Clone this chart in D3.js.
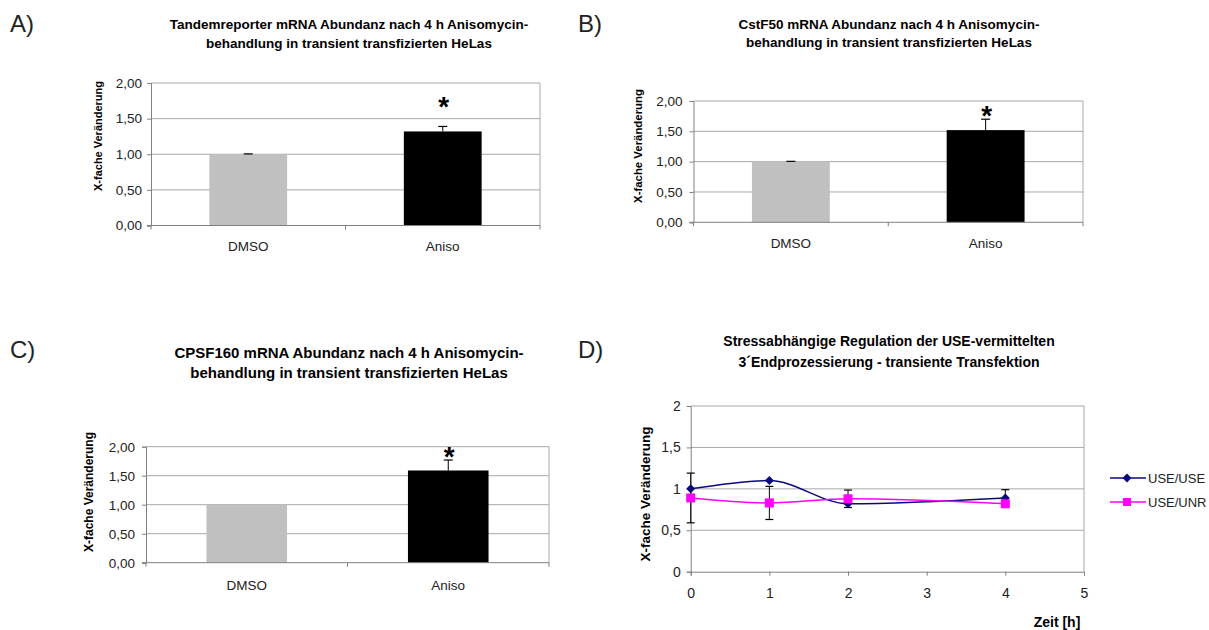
<!DOCTYPE html>
<html>
<head>
<meta charset="utf-8">
<script src="https://cdn.jsdelivr.net/npm/d3@7"></script>
<style>
  body { margin: 0; background: #fff; }
  svg { display: block; font-family: "Liberation Sans", Arial, sans-serif; }
</style>
</head>
<body>
<svg id="chart" width="1209" height="630"></svg>
<script>
// ---- data ----
const categories = ["DMSO", "Aniso"];
const barTicks = [0, 0.5, 1, 1.5, 2];

const tandemValues = [1.00, 1.32];
const tandemErrors = [0.005, 0.07];
const cstfValues = [1.00, 1.52];
const cstfErrors = [0.005, 0.18];
const cpsfValues = [1.00, 1.59];
const cpsfErrors = [0.0, 0.18];
const starLevels = [1.75, 1.85, 1.92]; // where the "*" sits, panels A, B, C

const hours = [0, 1, 2, 4];
const useUse = [1.00, 1.10, 0.82, 0.89];
const useUseErr = [0, 0, 0, 0.10];
const useUnr = [0.89, 0.83, 0.88, 0.82];
const useUnrErr = [0.30, 0.20, 0.105, 0];
const lineXTicks = [0, 1, 2, 3, 4, 5];
const lineYTicks = [0, 0.5, 1, 1.5, 2];

const gridColor = "#a8a8a8";
const axisColor = "#808080";
const navy = "#0a0a7a";
const magenta = "#ff00ff";

const svg = d3.select("#chart");

const comma = f => v => f(v).replace(".", ",");

const panelLetter = (x, y, txt) => {
  svg.append("text")
    .attr("x", x).attr("y", y)
    .attr("font-size", 24)
    .attr("fill", "#222")
    .text(txt);
};

const title = (cx, ys, lines, fs) => {
  lines.forEach((l, i) => {
    svg.append("text")
      .attr("x", cx).attr("y", ys[i] + fs * 0.35)
      .attr("text-anchor", "middle")
      .attr("font-weight", "bold")
      .attr("font-size", fs)
      .text(l);
  });
};

const yLabel = (x, cy, fs) => {
  svg.append("text")
    .attr("transform", `translate(${x},${cy}) rotate(-90)`)
    .attr("text-anchor", "middle")
    .attr("dy", "0.35em")
    .attr("font-weight", "bold")
    .attr("font-size", fs)
    .text("X-fache Veränderung");
};

const drawBars = (p, values, errors, star) => {
  const g = svg.append("g");

  const x = d3.scaleBand()
    .domain(categories)
    .range([p.left, p.right])
    .paddingInner(0.6)
    .paddingOuter(0.3);

  const y = d3.scaleLinear().domain([0, 2]).range([p.bottom, p.top]);

  // grid
  g.selectAll(".grid")
    .data(barTicks.filter(d => d > 0))
    .join("line")
    .attr("x1", p.left).attr("x2", p.right)
    .attr("y1", d => y(d)).attr("y2", d => y(d))
    .attr("stroke", gridColor);

  g.append("line")
    .attr("x1", p.right).attr("x2", p.right)
    .attr("y1", p.top).attr("y2", p.bottom)
    .attr("stroke", gridColor);

  // bars
  g.selectAll(".bar")
    .data(values)
    .join("rect")
    .attr("x", (d, i) => x(categories[i]))
    .attr("y", d => y(d))
    .attr("width", x.bandwidth())
    .attr("height", d => p.bottom - y(d))
    .attr("fill", (d, i) => i === 0 ? "#c0c0c0" : "#000");

  // error bars (plus only)
  values.forEach((v, i) => {
    if (!errors[i]) return;
    const cx = x(categories[i]) + x.bandwidth() / 2;
    g.append("line")
      .attr("x1", cx).attr("x2", cx)
      .attr("y1", y(v)).attr("y2", y(v + errors[i]))
      .attr("stroke", "#000");
    g.append("line")
      .attr("x1", cx - 4.5).attr("x2", cx + 4.5)
      .attr("y1", y(v + errors[i])).attr("y2", y(v + errors[i]))
      .attr("stroke", "#000").attr("stroke-width", 1.2);
  });

  // star over Aniso
  const sx = x("Aniso") + x.bandwidth() / 2;
  g.append("text")
    .attr("x", sx + 1).attr("y", y(star) + 15)
    .attr("text-anchor", "middle")
    .attr("font-size", 28)
    .attr("font-weight", "bold")
    .text("*");

  // y axis
  const ya = g.append("g")
    .attr("transform", `translate(${p.left},0)`)
    .call(d3.axisLeft(y).tickValues(barTicks).tickSize(4).tickPadding(p.pad)
      .tickFormat(comma(d3.format(".2f"))));
  ya.select(".domain").attr("stroke", axisColor);
  ya.selectAll(".tick line").attr("stroke", axisColor);
  ya.selectAll("text").attr("font-size", 13.5).attr("fill", "#222")
    .attr("font-family", "Liberation Sans, Arial, sans-serif");

  // x axis: baseline with ticks at band edges
  g.append("line")
    .attr("x1", p.left - 4).attr("x2", p.right)
    .attr("y1", p.bottom).attr("y2", p.bottom)
    .attr("stroke", axisColor);
  const edges = [p.left, (p.left + p.right) / 2, p.right];
  g.selectAll(".xt")
    .data(edges)
    .join("line")
    .attr("x1", d => d).attr("x2", d => d)
    .attr("y1", p.bottom).attr("y2", p.bottom + 4)
    .attr("stroke", axisColor);

  g.selectAll(".cat")
    .data(categories)
    .join("text")
    .attr("x", d => x(d) + x.bandwidth() / 2)
    .attr("y", p.catY + 4.7)
    .attr("text-anchor", "middle")
    .attr("font-size", 13.5)
    .attr("fill", "#222")
    .text(d => d);
};

// ---- panel A ----
panelLetter(10, 32, "A)");
title(349, [24, 43],
  ["Tandemreporter mRNA Abundanz nach 4 h Anisomycin-",
   "behandlung in transient transfizierten HeLas"], 13.5);
yLabel(98, 136, 11);
drawBars({ left: 151, right: 540, top: 83, bottom: 225.5, catY: 246, pad: 5 },
  tandemValues, tandemErrors, starLevels[0]);

// ---- panel B ----
panelLetter(578, 32, "B)");
title(889, [24, 42],
  ["CstF50 mRNA Abundanz nach 4 h Anisomycin-",
   "behandlung in transient transfizierten HeLas"], 13.5);
yLabel(638, 146, 11.4);
drawBars({ left: 693.5, right: 1083, top: 101, bottom: 222.3, catY: 243, pad: 7 },
  cstfValues, cstfErrors, starLevels[1]);

// ---- panel C ----
panelLetter(10, 358, "C)");
title(349, [353, 373],
  ["CPSF160 mRNA Abundanz nach 4 h Anisomycin-",
   "behandlung in transient transfizierten HeLas"], 15);
yLabel(89, 492, 12);
drawBars({ left: 146, right: 549, top: 446.7, bottom: 562.7, catY: 585, pad: 7 },
  cpsfValues, cpsfErrors, starLevels[2]);

// ---- panel D ----
panelLetter(578, 358, "D)");
title(889, [341, 362],
  ["Stressabhängige Regulation der USE-vermittelten",
   "3´Endprozessierung - transiente Transfektion"], 14);
yLabel(645, 494, 13.5);

const pd = { left: 690.7, right: 1084, top: 406, bottom: 571.7 };
const xD = d3.scaleLinear().domain([0, 5]).range([pd.left, pd.right]);
const yD = d3.scaleLinear().domain([0, 2]).range([pd.bottom, pd.top]);
const gD = svg.append("g");

gD.selectAll(".grid")
  .data(lineYTicks.filter(d => d > 0))
  .join("line")
  .attr("x1", pd.left).attr("x2", pd.right)
  .attr("y1", d => yD(d)).attr("y2", d => yD(d))
  .attr("stroke", gridColor);
gD.append("line")
  .attr("x1", pd.right).attr("x2", pd.right)
  .attr("y1", pd.top).attr("y2", pd.bottom)
  .attr("stroke", gridColor);

const yaD = gD.append("g")
  .attr("transform", `translate(${pd.left},0)`)
  .call(d3.axisLeft(yD).tickValues(lineYTicks).tickSize(4).tickPadding(6)
    .tickFormat(d => String(d).replace(".", ",")));
const xaD = gD.append("g")
  .attr("transform", `translate(0,${pd.bottom})`)
  .call(d3.axisBottom(xD).tickValues(lineXTicks).tickSize(4).tickPadding(12)
    .tickFormat(d3.format("d")));
[yaD, xaD].forEach(a => {
  a.select(".domain").attr("stroke", axisColor);
  a.selectAll(".tick line").attr("stroke", axisColor);
  a.selectAll("text").attr("font-size", 14).attr("fill", "#222")
    .attr("font-family", "Liberation Sans, Arial, sans-serif");
});

// error bars
const errBars = (vals, errs) => {
  vals.forEach((v, i) => {
    if (!errs[i]) return;
    const cx = xD(hours[i]);
    const lo = yD(v - errs[i]), hi = yD(v + errs[i]);
    gD.append("line").attr("x1", cx).attr("x2", cx).attr("y1", lo).attr("y2", hi)
      .attr("stroke", "#000");
    [lo, hi].forEach(yy => gD.append("line")
      .attr("x1", cx - 4).attr("x2", cx + 4).attr("y1", yy).attr("y2", yy)
      .attr("stroke", "#000").attr("stroke-width", 1.2));
  });
};
errBars(useUnr, useUnrErr);
errBars(useUse, useUseErr);

const line = d3.line()
  .x((d, i) => xD(hours[i]))
  .y(d => yD(d))
  .curve(d3.curveMonotoneX);

gD.append("path").datum(useUse).attr("d", line)
  .attr("fill", "none").attr("stroke", navy).attr("stroke-width", 1.5);
gD.append("path").datum(useUnr).attr("d", line)
  .attr("fill", "none").attr("stroke", magenta).attr("stroke-width", 1.5);

const diamond = (cx, cy, r) => `M${cx},${cy - r}L${cx + r},${cy}L${cx},${cy + r}L${cx - r},${cy}Z`;

gD.selectAll(".dm")
  .data(useUse)
  .join("path")
  .attr("d", (d, i) => diamond(xD(hours[i]), yD(d), 4.5))
  .attr("fill", navy);
gD.selectAll(".sq")
  .data(useUnr)
  .join("rect")
  .attr("x", (d, i) => xD(hours[i]) - 4.5)
  .attr("y", d => yD(d) - 4.5)
  .attr("width", 9).attr("height", 9)
  .attr("fill", magenta);

svg.append("text")
  .attr("x", 1057).attr("y", 627)
  .attr("text-anchor", "middle")
  .attr("font-weight", "bold")
  .attr("font-size", 14)
  .text("Zeit [h]");

// legend
const legend = [
  { name: "USE/USE", color: navy, shape: "diamond", y: 478 },
  { name: "USE/UNR", color: magenta, shape: "square", y: 502 }
];
legend.forEach(l => {
  svg.append("line")
    .attr("x1", 1110).attr("x2", 1146)
    .attr("y1", l.y).attr("y2", l.y)
    .attr("stroke", l.color).attr("stroke-width", 1.5);
  if (l.shape === "diamond") {
    svg.append("path").attr("d", diamond(1127, l.y, 4.5)).attr("fill", l.color);
  } else {
    svg.append("rect").attr("x", 1123).attr("y", l.y - 4).attr("width", 8).attr("height", 8)
      .attr("fill", l.color);
  }
  svg.append("text")
    .attr("x", 1148).attr("y", l.y + 5)
    .attr("font-size", 13)
    .attr("fill", "#222")
    .text(l.name);
});
</script>
</body>
</html>
